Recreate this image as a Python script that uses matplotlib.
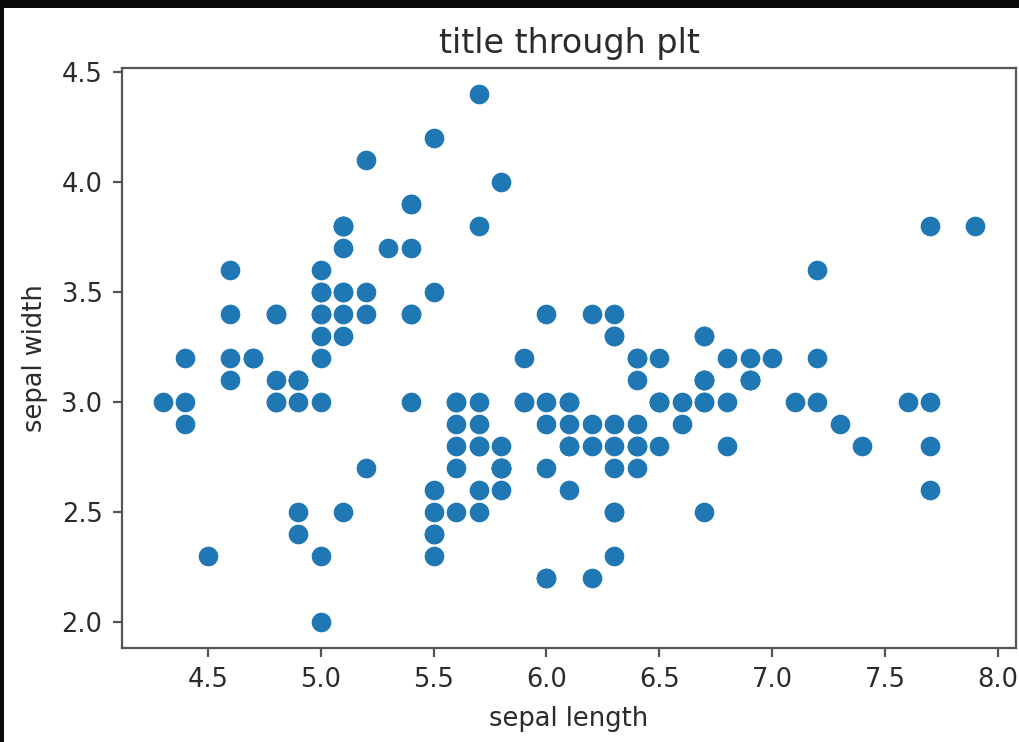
import matplotlib
matplotlib.use("Agg")
import matplotlib.pyplot as plt
from matplotlib.patches import Rectangle

# Iris sepal measurements (length, width)
sepal_length = [
    5.1, 4.9, 4.7, 4.6, 5.0, 5.4, 4.6, 5.0, 4.4, 4.9, 5.4, 4.8, 4.8, 4.3, 5.8, 5.7, 5.4, 5.1, 5.7, 5.1,
    5.4, 5.1, 4.6, 5.1, 4.8, 5.0, 5.0, 5.2, 5.2, 4.7, 4.8, 5.4, 5.2, 5.5, 4.9, 5.0, 5.5, 4.9, 4.4, 5.1,
    5.0, 4.5, 4.4, 5.0, 5.1, 4.8, 5.1, 4.6, 5.3, 5.0,
    7.0, 6.4, 6.9, 5.5, 6.5, 5.7, 6.3, 4.9, 6.6, 5.2, 5.0, 5.9, 6.0, 6.1, 5.6, 6.7, 5.6, 5.8, 6.2, 5.6,
    5.9, 6.1, 6.3, 6.1, 6.4, 6.6, 6.8, 6.7, 6.0, 5.7, 5.5, 5.5, 5.8, 6.0, 5.4, 6.0, 6.7, 6.3, 5.6, 5.5,
    5.5, 6.1, 5.8, 5.0, 5.6, 5.7, 5.7, 6.2, 5.1, 5.7,
    6.3, 5.8, 7.1, 6.3, 6.5, 7.6, 4.9, 7.3, 6.7, 7.2, 6.5, 6.4, 6.8, 5.7, 5.8, 6.4, 6.5, 7.7, 7.7, 6.0,
    6.9, 5.6, 7.7, 6.3, 6.7, 7.2, 6.2, 6.1, 6.4, 7.2, 7.4, 7.9, 6.4, 6.3, 6.1, 7.7, 6.3, 6.4, 6.0, 6.9,
    6.7, 6.9, 5.8, 6.8, 6.7, 6.7, 6.3, 6.5, 6.2, 5.9,
]
sepal_width = [
    3.5, 3.0, 3.2, 3.1, 3.6, 3.9, 3.4, 3.4, 2.9, 3.1, 3.7, 3.4, 3.0, 3.0, 4.0, 4.4, 3.9, 3.5, 3.8, 3.8,
    3.4, 3.7, 3.6, 3.3, 3.4, 3.0, 3.4, 3.5, 3.4, 3.2, 3.1, 3.4, 4.1, 4.2, 3.1, 3.2, 3.5, 3.1, 3.0, 3.4,
    3.5, 2.3, 3.2, 3.5, 3.8, 3.0, 3.8, 3.2, 3.7, 3.3,
    3.2, 3.2, 3.1, 2.3, 2.8, 2.8, 3.3, 2.4, 2.9, 2.7, 2.0, 3.0, 2.2, 2.9, 2.9, 3.1, 3.0, 2.7, 2.2, 2.5,
    3.2, 2.8, 2.5, 2.8, 2.9, 3.0, 2.8, 3.0, 2.9, 2.6, 2.4, 2.4, 2.7, 2.7, 3.0, 3.4, 3.1, 2.3, 3.0, 2.5,
    2.6, 3.0, 2.6, 2.3, 2.7, 3.0, 2.9, 2.9, 2.5, 2.8,
    3.3, 2.7, 3.0, 2.9, 3.0, 3.0, 2.5, 2.9, 2.5, 3.6, 3.2, 2.7, 3.0, 2.5, 2.8, 3.2, 3.0, 3.8, 2.6, 2.2,
    3.2, 2.8, 2.8, 2.7, 3.3, 3.2, 2.8, 3.0, 2.8, 3.0, 2.8, 3.8, 2.8, 2.8, 2.6, 3.0, 3.4, 3.1, 3.0, 3.1,
    3.1, 3.1, 2.7, 3.2, 3.3, 3.0, 2.5, 3.0, 3.4, 3.0,
]

W, H = 1019, 742
fig = plt.figure(figsize=(W / 100, H / 100), dpi=100)
fig.patch.set_facecolor("white")

# Axes placed in pixel terms
left, right, top, bottom = 122, 1016, 68, 648
ax = fig.add_axes([left / W, 1 - bottom / H, (right - left) / W, (bottom - top) / H])

ax.scatter(sepal_length, sepal_width, s=200, color="#1f77b4", linewidths=0)

text_color = "#2b2b2b"
for sp in ax.spines.values():
    sp.set_linewidth(1.6)
    sp.set_color("#555555")
ax.tick_params(labelsize=18.5, length=6.5, width=1.6, color="#555555", labelcolor=text_color, pad=7.5)
ax.set_xticks([4.5, 5.0, 5.5, 6.0, 6.5, 7.0, 7.5, 8.0])
ax.set_yticks([2.0, 2.5, 3.0, 3.5, 4.0, 4.5])

ax.set_title("title through plt", fontsize=24, color=text_color, pad=11)
ax.set_xlabel("sepal length", fontsize=18.5, color=text_color, labelpad=9)
ax.set_ylabel("sepal width", fontsize=18.5, color=text_color, labelpad=10)

# Dark screen frame along the top and left edges
fig.patches.append(Rectangle((0, 1 - 8 / H), 1, 8 / H, transform=fig.transFigure,
                             facecolor="#0a0a0a", edgecolor="none", zorder=10))
fig.patches.append(Rectangle((0, 0), 4 / W, 1, transform=fig.transFigure,
                             facecolor="#0a0a0a", edgecolor="none", zorder=10))

fig.savefig("out.png", dpi=100)
